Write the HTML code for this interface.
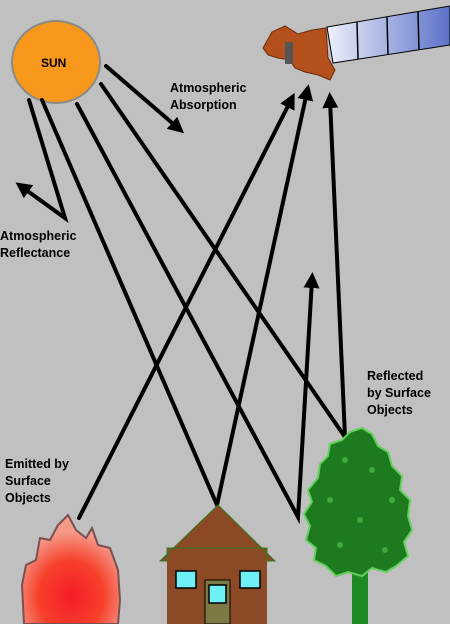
<!DOCTYPE html>
<html><head><meta charset="utf-8"><style>
html,body{margin:0;padding:0;background:#c0c0c0;width:450px;height:624px;overflow:hidden}
svg text{font-family:"Liberation Sans",sans-serif;font-weight:bold;font-size:12.5px;fill:#000}
</style></head><body>
<svg width="450" height="624" viewBox="0 0 450 624">
<defs>
<marker id="ah" markerWidth="4" markerHeight="4" refX="2" refY="2" orient="auto" markerUnits="strokeWidth">
<path d="M0,0 L4,2 L0,4 z" fill="#000"/></marker>
<radialGradient id="fireg" cx="0.5" cy="0.75" r="0.6"><stop offset="0" stop-color="#f51c2a"/><stop offset="0.55" stop-color="#f7402a"/><stop offset="1" stop-color="#f59a8a"/></radialGradient>
<linearGradient id="panelg" x1="0" x2="1"><stop offset="0" stop-color="#eef0fb"/><stop offset="1" stop-color="#5b72c8"/></linearGradient>
</defs>
<rect width="450" height="624" fill="#c0c0c0"/>

<g>
<ellipse cx="56" cy="62" rx="44" ry="41" fill="#f7981c" stroke="#8a8a8a" stroke-width="2"/>
<text x="41" y="67" style="font-size:12px">SUN</text>
</g>

<g>
<polygon points="327,27 450,6 450,45 333,63" fill="url(#panelg)" stroke="#000" stroke-width="1"/>
<line x1="357" y1="22" x2="358" y2="59" stroke="#000" stroke-width="1.5"/>
<line x1="387" y1="17" x2="388" y2="55" stroke="#000" stroke-width="1.5"/>
<line x1="418" y1="12" x2="419" y2="50" stroke="#000" stroke-width="1.5"/>
<path d="M263,48 L272,32 L285,26 L298,34 L312,30 L326,28 L328,58 L335,70 L330,80 L318,75 L305,72 L295,68 L290,60 L278,58 L268,55 Z" fill="#b4501c" stroke="#6a2a0a" stroke-width="1"/>
<rect x="285" y="42" width="8" height="22" fill="#555"/>
</g>

<g stroke="#000" stroke-width="4" fill="none" stroke-linecap="round">
<line x1="106" y1="66" x2="178" y2="128" marker-end="url(#ah)"/>
<polyline points="29,100 65,218 22,187" marker-end="url(#ah)"/>
<polyline points="42,100 217,505 307,92" marker-end="url(#ah)"/>
<polyline points="77,104 298,517 312,280" marker-end="url(#ah)"/>
<polyline points="101,84 345,437 330,100" marker-end="url(#ah)"/>
<line x1="79" y1="518" x2="291" y2="100" marker-end="url(#ah)"/>
</g>

<g>
<path d="M24,624 L22,585 L26,565 L36,560 L40,538 L50,540 L58,525 L68,515 L76,530 L86,538 L92,528 L98,545 L110,548 L118,570 L120,600 L118,624 Z" fill="url(#fireg)" stroke="#7a5050" stroke-width="2"/>
</g>

<g>
<rect x="167" y="548" width="100" height="76" fill="#8b4a25"/>
<polygon points="218,505 160,561 167,561 167,548 267,548 267,561 275,561" fill="#8b4a25" stroke="#2f7a1e" stroke-width="1"/>
<rect x="176" y="571" width="20" height="17" fill="#6ef0f5" stroke="#000" stroke-width="1.5"/>
<rect x="240" y="571" width="20" height="17" fill="#6ef0f5" stroke="#000" stroke-width="1.5"/>
<rect x="205" y="580" width="25" height="44" fill="#7d7a45" stroke="#000" stroke-width="1"/>
<rect x="209" y="585" width="17" height="18" fill="#6ef0f5" stroke="#000" stroke-width="1.5"/>
</g>

<g>
<rect x="352" y="560" width="16" height="64" fill="#1e8a24"/>
<path d="M350,432 L362,428 L372,434 L378,446 L388,452 L392,466 L402,476 L400,490 L410,500 L408,516 L412,530 L404,542 L408,556 L396,566 L386,572 L372,568 L362,576 L348,572 L336,576 L326,566 L314,560 L316,548 L306,540 L310,526 L304,514 L312,502 L308,490 L318,478 L320,464 L328,456 L330,444 L342,440 Z" fill="#1e7a1e" stroke="#5fd05a" stroke-width="2"/>
<g fill="#4fbf4a" opacity="0.7">
<circle cx="345" cy="460" r="3"/><circle cx="372" cy="470" r="3"/><circle cx="330" cy="500" r="3"/><circle cx="392" cy="500" r="3"/><circle cx="360" cy="520" r="3"/><circle cx="340" cy="545" r="3"/><circle cx="385" cy="550" r="3"/>
</g>
</g>

<g>
<text x="170" y="92">Atmospheric</text>
<text x="170" y="109">Absorption</text>
<text x="0" y="240">Atmospheric</text>
<text x="0" y="257">Reflectance</text>
<text x="367" y="380">Reflected</text>
<text x="367" y="397">by Surface</text>
<text x="367" y="414">Objects</text>
<text x="5" y="468">Emitted by</text>
<text x="5" y="485">Surface</text>
<text x="5" y="502">Objects</text>
</g>
</svg>
</body></html>
